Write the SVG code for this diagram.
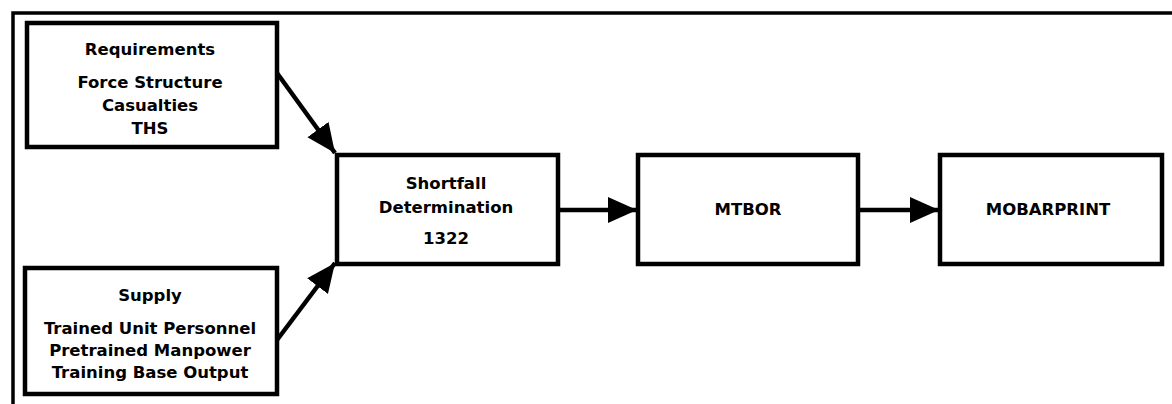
<svg xmlns="http://www.w3.org/2000/svg" width="1172" height="404" viewBox="0 0 1172 404">
<style>
.box{fill:#fff;stroke:#000;stroke-width:4.5}
.t{font-family:"DejaVu Sans",sans-serif;font-weight:bold;font-size:16.5px;text-anchor:middle;fill:#000}
.c{stroke:#000;stroke-width:4.5;fill:none}
</style>
<defs>
<marker id="ah" markerUnits="userSpaceOnUse" markerWidth="32" markerHeight="28" refX="29" refY="13" orient="auto">
<path d="M0,0 L29,13 L0,26 Z" fill="#000"/>
</marker>
</defs>
<rect width="1172" height="404" fill="#fff"/>
<path d="M13,404 L13,13 L1172,13" fill="none" stroke="#000" stroke-width="3.5"/>
<g id="requirements">
<rect class="box" x="27" y="23" width="250" height="124"/>
<text class="t" x="150" y="55">Requirements</text>
<text class="t" x="150" y="88">Force Structure</text>
<text class="t" x="150" y="111">Casualties</text>
<text class="t" x="150" y="134">THS</text>
</g>
<g id="supply">
<rect class="box" x="25" y="268" width="252" height="126"/>
<text class="t" x="150" y="301">Supply</text>
<text class="t" x="150" y="334">Trained Unit Personnel</text>
<text class="t" x="150" y="356">Pretrained Manpower</text>
<text class="t" x="150" y="378">Training Base Output</text>
</g>
<g id="shortfall">
<rect class="box" x="337" y="155" width="221" height="109"/>
<text class="t" x="446" y="189">Shortfall</text>
<text class="t" x="446" y="213">Determination</text>
<text class="t" x="446" y="244">1322</text>
</g>
<g id="mtbor">
<rect class="box" x="638" y="155" width="220" height="109"/>
<text class="t" x="748" y="215">MTBOR</text>
</g>
<g id="mobarprint">
<rect class="box" x="940" y="155" width="222" height="109"/>
<text class="t" x="1048" y="215">MOBARPRINT</text>
</g>
<g id="connectors">
<line class="c" x1="277" y1="73" x2="335" y2="153" marker-end="url(#ah)"/>
<line class="c" x1="277" y1="340" x2="335" y2="263" marker-end="url(#ah)"/>
<line class="c" x1="558" y1="210" x2="637" y2="210" marker-end="url(#ah)"/>
<line class="c" x1="858" y1="210" x2="939" y2="210" marker-end="url(#ah)"/>
</g>
</svg>
